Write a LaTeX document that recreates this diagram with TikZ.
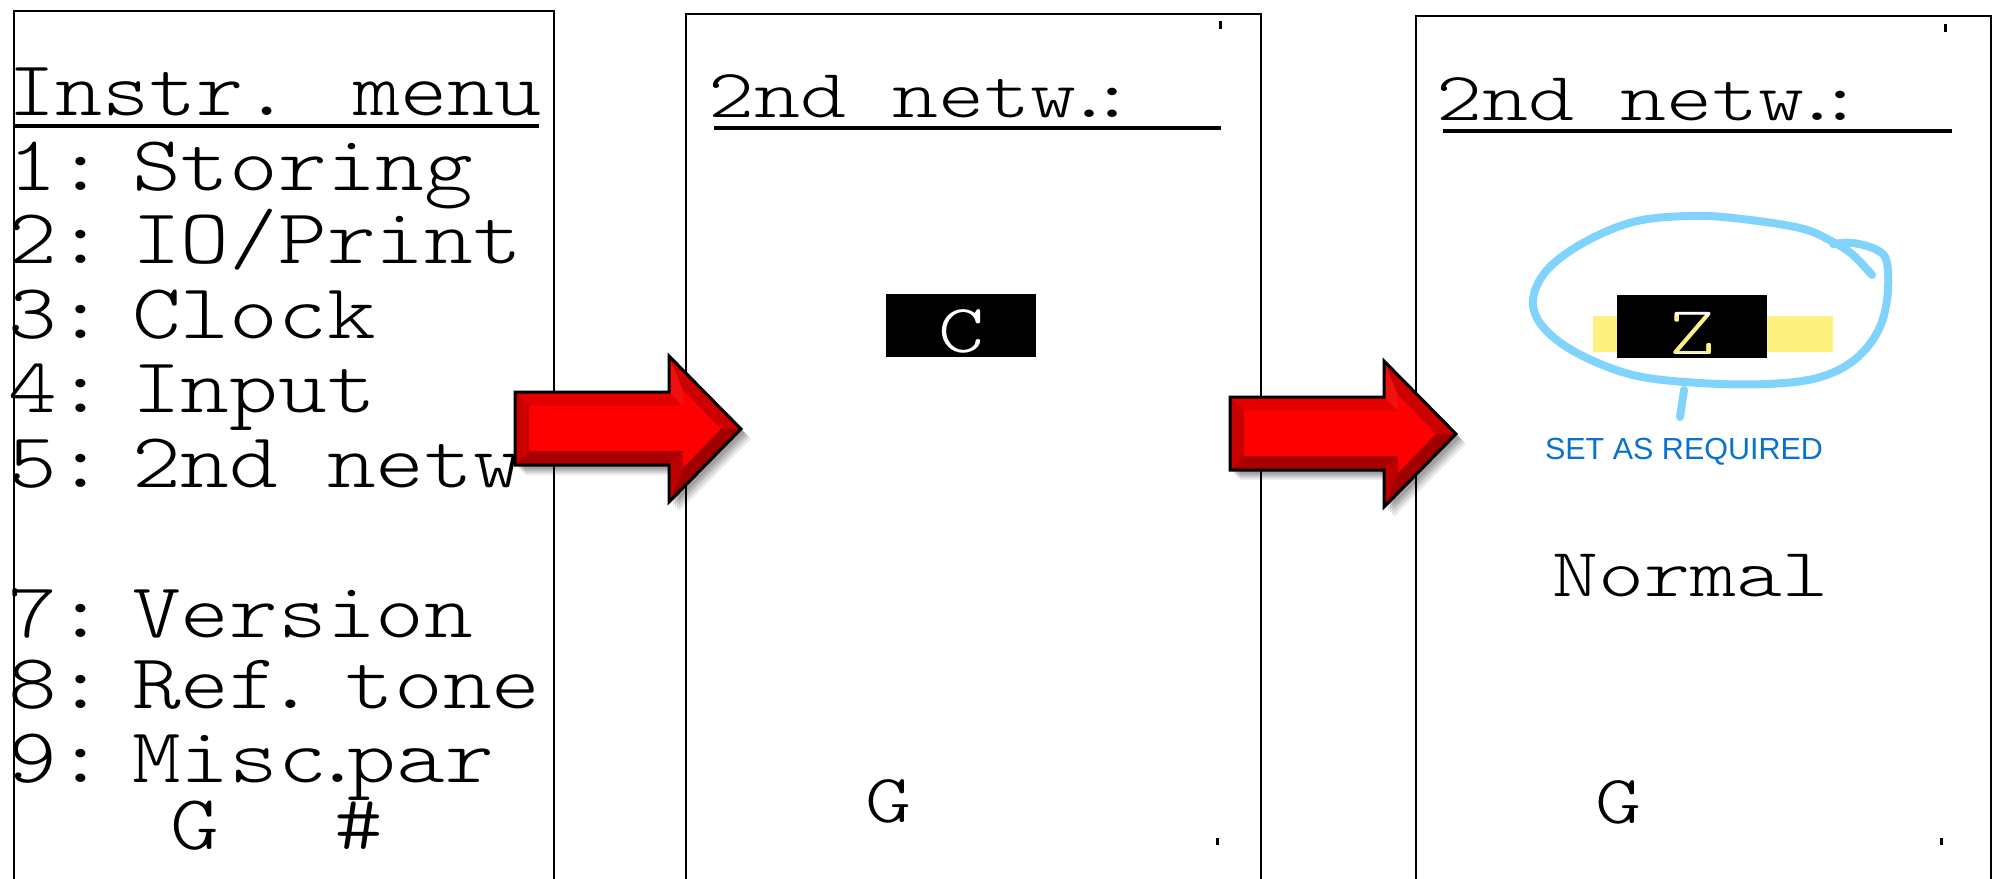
\documentclass[tikz,border=0pt]{standalone}
\usepackage{fontspec}
\newfontfamily\lcdA{lmmonolt10-regular.otf}[FakeStretch=1.19]
\newfontfamily\lcdT{lmmonolt10-regular.otf}[FakeStretch=1.15]
\newfontfamily\lcdB{lmmonolt10-regular.otf}[FakeStretch=1.27]
\newfontfamily\annfont{Liberation Sans}
\definecolor{hlyellow}{RGB}{255,241,128}
\definecolor{penblue}{RGB}{128,212,252}
\definecolor{noteblue}{RGB}{10,114,204}
\definecolor{redC}{RGB}{255,0,0}
\definecolor{redTop}{RGB}{228,0,0}
\definecolor{redStep}{RGB}{240,16,16}
\definecolor{redUp}{RGB}{205,0,0}
\definecolor{redLow}{RGB}{160,0,0}
\definecolor{redLowStep}{RGB}{190,0,0}
\definecolor{redBot}{RGB}{168,0,0}
\definecolor{redLeft}{RGB}{200,0,0}
\newcommand{\pfx}[1]{\makebox[124pt][l]{#1}}
\tikzset{
  lcd/.style={font=\lcdA\fontsize{78}{90}\selectfont, inner sep=0pt, anchor=base west, text=black, text height=52pt, text depth=12pt},
  lcdc/.style={lcd, anchor=base, text height=46pt},
  lcdt/.style={lcd, font=\lcdT\fontsize{78}{90}\selectfont},
  lcds/.style={font=\lcdB\fontsize{69}{80}\selectfont, inner sep=0pt, anchor=base west, text=black, text height=46pt, text depth=10pt},
  lcdsc/.style={lcds, anchor=base},
  panel/.style={draw=black, line width=2.2pt, anchor=north west, inner sep=0pt},
  uline/.style={line width=4pt, black},
  lcdbox/.style={fill=black, draw=none},
  speck/.style={fill=black, draw=none},
  pen/.style={penblue, line width=8pt, line cap=round, line join=round},
  note/.style={font=\annfont\fontsize{30.5}{34}\selectfont, text=noteblue, inner sep=0pt, anchor=base},
  arrowedge/.style={draw=black, line width=3pt, line join=miter},
}
\newcommand{\bevarrow}[1]{%
  \begin{scope}[shift={#1}]
    \foreach \s/\o in {10/0.08,8/0.10,6/0.12,4/0.12}{
      \fill[black, opacity=\o, shift={(\s,\s)}] (0,0) -- (154,0) -- (154,-36) -- (226,37) -- (154,110) -- (154,73) -- (0,73) -- cycle;
    }
    \fill[redC] (0,0) -- (154,0) -- (154,-36) -- (226,37) -- (154,110) -- (154,73) -- (0,73) -- cycle;
    \fill[redTop] (0,0) -- (154,0) -- (168,14) -- (14,14) -- cycle;
    \fill[redStep] (154,0) -- (154,-36) -- (168,-2) -- (168,14) -- cycle;
    \fill[redUp] (154,-36) -- (226,37) -- (206,37) -- (168,-2) -- cycle;
    \fill[redLow] (226,37) -- (154,110) -- (168,76) -- (206,37) -- cycle;
    \fill[redLowStep] (154,110) -- (154,73) -- (168,59) -- (168,76) -- cycle;
    \fill[redBot] (154,73) -- (0,73) -- (14,59) -- (168,59) -- cycle;
    \fill[redLeft] (0,73) -- (0,0) -- (14,14) -- (14,59) -- cycle;
    \draw[arrowedge] (0,0) -- (154,0) -- (154,-36) -- (226,37) -- (154,110) -- (154,73) -- (0,73) -- cycle;
  \end{scope}}
\begin{document}
\begin{tikzpicture}[x=1pt,y=-1pt]
\useasboundingbox (0,0) rectangle (1993,878);
\fill[white] (0,0) rectangle (1993,878);
\clip (0,0) rectangle (1993,878);

% panels
\node[panel, minimum width=540pt, minimum height=900pt] (p1) at (13,10) {};
\node[panel, minimum width=575pt, minimum height=900pt] (p2) at (685,13) {};
\node[panel, minimum width=575pt, minimum height=900pt] (p3) at (1415,15) {};

% panel 1 text
\node[lcdt] (t1) at (8,115) {Instr. menu};
\draw[uline] (13,126) -- (539,126);
\node[lcd] (m1) at (8,190) {\pfx{1: }Storing};
\node[lcd] (m2) at (8,263) {\pfx{2: }IO/Print};
\node[lcd] (m3) at (8,338) {\pfx{3: }Clock};
\node[lcd] (m4) at (8,412) {\pfx{4: }Input};
\node[lcd] (m5) at (8,487) {\pfx{5: }2nd netw};
\node[lcd] (m7) at (8,637) {\pfx{7: }Version};
\node[lcd] (m8) at (8,708) {\pfx{8: }Ref\kern-12pt.\kern-18pt\ tone};
\node[lcd] (m9) at (8,782) {\pfx{9: }Misc\kern-14pt.\kern-14pt par};
\node[lcdc] (g1) at (195,849) {G};
\node[lcdc] (h1) at (359,849) {\#};

% panel 2
\node[lcds] (t2) at (708,117) {2nd netw\kern-10pt.\kern-23pt:};
\draw[uline] (714,128) -- (1221,128);
\fill[lcdbox] (886,294) rectangle (1036,357);
\node[lcdsc, text=white] (c2) at (961,352) {C};
\node[lcdsc] (g2) at (888,822) {G};
\fill[speck] (1219,21) rectangle (1222,29);
\fill[speck] (1216,838) rectangle (1219,845);

% panel 3
\node[lcds] (t3) at (1436,120) {2nd netw\kern-10pt.\kern-23pt:};
\draw[uline] (1443,131) -- (1952,131);
\fill[hlyellow] (1593,316) rectangle (1833,352);
\fill[lcdbox] (1617,295) rectangle (1767,358);
\node[lcdsc, text=white] (z3) at (1692,354) {Z};
\begin{scope}
  \clip (1617,316) rectangle (1767,352);
  \node[lcdsc, text=hlyellow] (z3h) at (1692,354) {Z};
\end{scope}
\node[lcdsc] (nm) at (1690,596) {Normal};
\node[lcdsc] (g3) at (1618,823) {G};
\fill[speck] (1944,24) rectangle (1947,32);
\fill[speck] (1940,838) rectangle (1943,845);

% hand-drawn annotation
\draw[pen] plot[smooth, tension=0.6] coordinates {
  (1872,275) (1853,255) (1833,242) (1800,228) (1733,218) (1687,216)
  (1633,222) (1583,243) (1547,270) (1533,300) (1543,327) (1577,353)
  (1633,375) (1700,383) (1767,384) (1817,378) (1853,361) (1877,333)
  (1887,300) (1887,263) (1877,250) (1853,243) (1833,244)};
\coordinate (tailA) at (1684,390);
\coordinate (tailB) at (1680,417);
\draw[pen] (tailA) -- (tailB);
\node[note] (req) at (1684,459) {SET AS REQUIRED};

% arrows
\bevarrow{(515,392)}
\bevarrow{(1230,397)}
\end{tikzpicture}
\end{document}
